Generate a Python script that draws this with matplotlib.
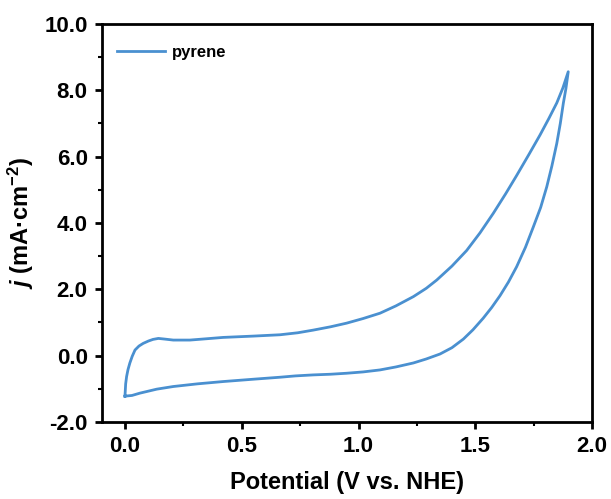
import matplotlib
matplotlib.use("Agg")
import matplotlib.pyplot as plt
from matplotlib.ticker import MultipleLocator, FormatStrFormatter

# Cyclic voltammogram of pyrene
# forward scan (upper branch)
potential_fwd = [0.000, 0.001, 0.003, 0.007, 0.013, 0.021, 0.031, 0.043, 0.060,
                 0.078, 0.100, 0.120, 0.143, 0.170, 0.207, 0.278, 0.350, 0.420,
                 0.550, 0.664, 0.740, 0.806, 0.880, 0.949, 1.020, 1.092, 1.160,
                 1.235, 1.290, 1.335, 1.400, 1.463, 1.520, 1.577, 1.630, 1.677,
                 1.730, 1.777, 1.815, 1.849, 1.875, 1.898]
current_fwd = [-1.22, -1.10, -0.85, -0.63, -0.42, -0.22, -0.02, 0.17, 0.29,
               0.37, 0.44, 0.49, 0.52, 0.50, 0.47, 0.47, 0.51, 0.55,
               0.59, 0.63, 0.69, 0.77, 0.87, 0.98, 1.12, 1.28, 1.50,
               1.78, 2.03, 2.28, 2.70, 3.17, 3.70, 4.29, 4.88, 5.43,
               6.07, 6.65, 7.15, 7.62, 8.07, 8.56]

# return scan (lower branch)
potential_rev = [1.898, 1.888, 1.877, 1.864, 1.849, 1.828, 1.806, 1.780, 1.749,
                 1.715, 1.677, 1.642, 1.606, 1.570, 1.534, 1.490, 1.449, 1.400,
                 1.349, 1.290, 1.235, 1.160, 1.092, 1.020, 0.949, 0.880, 0.806,
                 0.730, 0.664, 0.550, 0.421, 0.310, 0.207, 0.136, 0.100, 0.064,
                 0.030, 0.000]
current_rev = [8.56, 8.05, 7.61, 7.00, 6.40, 5.72, 5.09, 4.47, 3.89,
               3.27, 2.68, 2.22, 1.81, 1.45, 1.13, 0.78, 0.50, 0.24,
               0.05, -0.10, -0.22, -0.34, -0.43, -0.49, -0.53, -0.56, -0.58,
               -0.61, -0.65, -0.71, -0.78, -0.85, -0.93, -1.01, -1.07, -1.13,
               -1.20, -1.22]

series_label = "pyrene"
line_color = "#4a90d0"

plt.rcParams["font.family"] = ["Liberation Sans", "DejaVu Sans"]
plt.rcParams["font.weight"] = "bold"
plt.rcParams["mathtext.fontset"] = "custom"
plt.rcParams["mathtext.rm"] = "Liberation Sans:bold"
plt.rcParams["mathtext.it"] = "Liberation Sans:bold:italic"
plt.rcParams["mathtext.bf"] = "Liberation Sans:bold"

fig = plt.figure(figsize=(6.11, 4.99), dpi=100)
ax = fig.add_axes([0.1663, 0.1543, 0.8027, 0.7977])

ax.plot(potential_fwd + potential_rev[1:], current_fwd + current_rev[1:],
        color=line_color, linewidth=2.0, solid_joinstyle="round",
        label=series_label)

ax.set_xlim(-0.1, 2.0)
ax.set_ylim(-2.0, 10.0)

ax.xaxis.set_major_locator(MultipleLocator(0.5))
ax.xaxis.set_minor_locator(MultipleLocator(0.25))
ax.yaxis.set_major_locator(MultipleLocator(2.0))
ax.yaxis.set_minor_locator(MultipleLocator(1.0))
ax.xaxis.set_major_formatter(FormatStrFormatter("%.1f"))
ax.yaxis.set_major_formatter(FormatStrFormatter("%.1f"))

for side in ax.spines.values():
    side.set_linewidth(2.0)

ax.tick_params(which="major", direction="out", length=5, width=2.0,
               labelsize=16, pad=5, top=False, right=False)
ax.tick_params(which="minor", direction="out", length=3, width=1.5,
               top=False, right=False)

ax.set_xlabel("Potential (V vs. NHE)", fontsize=17, fontweight="bold", labelpad=10)
ax.set_ylabel(r"$\mathit{j}$ (mA·cm$^{-2}$)", fontsize=17, fontweight="bold", labelpad=6)

ax.legend(loc="upper left", frameon=False, fontsize=12, handlelength=2.9,
          handletextpad=0.4, bbox_to_anchor=(0.0, 0.985))

fig.savefig("out.png", dpi=100)
